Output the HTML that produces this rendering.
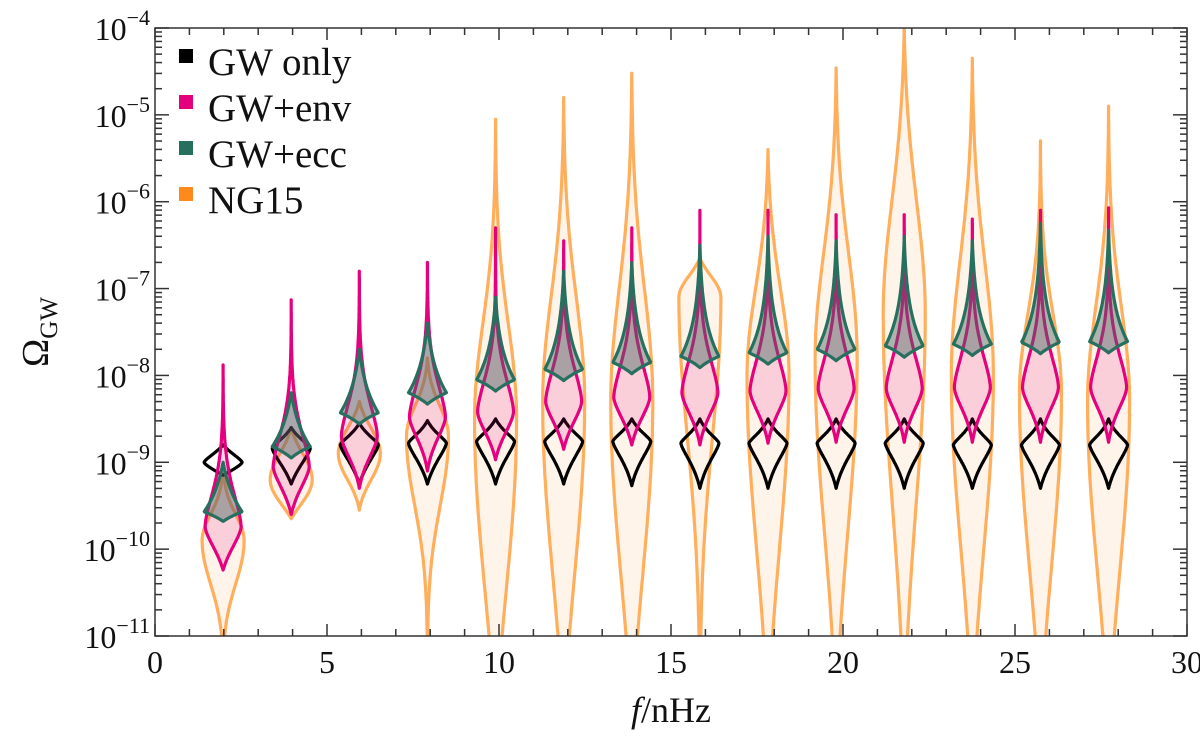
<!DOCTYPE html>
<html><head><meta charset="utf-8"><style>
body{margin:0;background:#fff;}
svg text{font-family:"Liberation Serif",serif;fill:#111;}
</style></head><body>
<svg id="chart" width="1200" height="745" viewBox="0 0 1200 745" xmlns="http://www.w3.org/2000/svg">
<defs><clipPath id="plotclip"><rect x="155" y="28" width="1032" height="608"/></clipPath></defs>
<g id="violins" clip-path="url(#plotclip)"></g>
<rect x="155" y="28" width="1032" height="608" fill="none" stroke="#333" stroke-width="1.5"/>
<g id="axes"></g>
<g>
<rect x="179" y="49" width="14" height="14" fill="#000"/>
<text x="208" y="75" font-size="39">GW only</text>
<rect x="179" y="95" width="14" height="14" fill="#e5007d"/>
<text x="208" y="121" font-size="39">GW+env</text>
<rect x="179" y="141" width="14" height="14" fill="#27705f"/>
<text x="208" y="167" font-size="39">GW+ecc</text>
<rect x="179" y="187" width="14" height="14" fill="#ff8a1c"/>
<text x="208" y="213" font-size="39">NG15</text>
</g>
<text x="671" y="722" font-size="36" text-anchor="middle"><tspan font-style="italic">f</tspan>/nHz</text>
<text transform="translate(48,332) rotate(-90)" font-size="38" text-anchor="middle">Ω<tspan font-size="25" dy="9">GW</tspan></text>
</svg>
<script>
// data
const freqs = [1.98,3.96,5.94,7.92,9.9,11.88,13.86,15.84,17.82,19.8,21.78,23.76,25.74,27.72];
// NG15 (orange)
const ngMode = [-9.9,-9.2,-8.9,-8.7,-8.5,-8.3,-8.3,-7.1,-8.0,-7.8,-7.3,-8.0,-8.2,-8.3];
const ngLo = [-11.3,-9.65,-9.55,-11.5,-12,-12,-12,-12,-12,-12,-12,-12,-12,-12];
const ngHi = [-9.0,-8.6,-8.3,-7.8,-5.05,-4.8,-4.52,-6.65,-5.4,-4.46,-4.0,-4.35,-5.3,-4.9];
const ngUp = [0.3,0.3,0.3,0.35,1.1,1.2,1.3,0.25,1.0,1.2,1.3,1.3,0.9,1.1];
const ngDown = [0.5,0.3,0.3,0.8,2.0,2.0,2.0,1.6,2.0,2.0,2.2,2.0,2.0,2.0];
// GW only (black)
const bkMode = [-9.0,-8.84,-8.8,-8.78,-8.76,-8.76,-8.76,-8.78,-8.78,-8.78,-8.78,-8.8,-8.8,-8.8];
const bkLo = [-9.15,-9.25,-9.25,-9.25,-9.25,-9.25,-9.27,-9.3,-9.3,-9.3,-9.3,-9.3,-9.3,-9.3];
const bkHi = [-8.8,-8.6,-8.55,-8.52,-8.5,-8.5,-8.5,-8.5,-8.5,-8.5,-8.5,-8.5,-8.5,-8.5];
// GW+env (pink)
const pkMode = [-9.74,-9.05,-8.7,-8.48,-8.42,-8.3,-8.25,-8.2,-8.18,-8.15,-8.15,-8.14,-8.14,-8.14];
const pkLo = [-10.24,-9.6,-9.3,-9.1,-8.97,-8.85,-8.8,-8.8,-8.78,-8.77,-8.77,-8.77,-8.77,-8.77];
const pkHi = [-7.88,-7.13,-6.8,-6.7,-6.3,-6.45,-6.3,-6.1,-6.1,-6.15,-6.15,-6.2,-6.1,-6.07];
// GW+ecc (green)
const grMode = [-9.57,-8.82,-8.43,-8.2,-8.05,-7.93,-7.85,-7.78,-7.74,-7.7,-7.66,-7.64,-7.62,-7.61];
const grLo = [-9.68,-8.95,-8.56,-8.33,-8.18,-8.06,-7.98,-7.91,-7.87,-7.83,-7.79,-7.77,-7.75,-7.74];
const grHi = [-9.0,-8.2,-7.7,-7.4,-7.1,-6.8,-6.7,-6.5,-6.4,-6.45,-6.4,-6.45,-6.25,-6.33];

const X0=155,X1=1187,Y0=28,Y1=636;
const xs = v => X0 + (v-0)/(30-0)*(X1-X0);
const ys = v => Y0 + (-4 - v)/7*(Y1-Y0);
const NS="http://www.w3.org/2000/svg";
const gV=document.getElementById('violins');
const gA=document.getElementById('axes');

function prof(t,s,k){return Math.exp(-0.5*Math.pow(Math.abs(t)/s,k));}
function violinPath(f,mode,lo,hi,su,sd,k,W){
  const cx=xs(f);const N=120;const right=[];
  const eU=prof(hi-mode,su,k), eD=prof(mode-lo,sd,k);
  for(let i=0;i<=N;i++){
    const v=lo+(hi-lo)*i/N;const t=v-mode;
    let w;
    if(t>=0){w=(prof(t,su,k)-eU)/(1-eU);}else{w=(prof(t,sd,k)-eD)/(1-eD);}
    w=Math.max(0,w)*W;
    right.push([cx+w,ys(v)]);
  }
  let d='M'+right.map(p=>p[0].toFixed(1)+','+p[1].toFixed(1)).join('L');
  for(let i=right.length-1;i>=0;i--){d+='L'+(2*cx-right[i][0]).toFixed(1)+','+right[i][1].toFixed(1);}
  return d+'Z';
}
function drawSet(name,mode,lo,hi,su,sd,k,W,fill,stroke){
  for(let i=0;i<freqs.length;i++){
    const p=document.createElementNS(NS,'path');
    const a=Array.isArray(su)?su[i]:su, b=Array.isArray(sd)?sd[i]:sd;
    p.setAttribute('d',violinPath(freqs[i],mode[i],lo[i],hi[i],a,b,k,W));
    p.setAttribute('fill',fill);p.setAttribute('stroke',stroke);
    p.setAttribute('stroke-width','3.2');p.setAttribute('stroke-linejoin','round');
    
    
    gV.appendChild(p);
  }
}
drawSet('ng15',ngMode,ngLo,ngHi,ngUp,ngDown,2,21,'rgba(255,170,90,0.13)','#ffae5c');
drawSet('gw-only',bkMode,bkLo,bkHi,0.12,0.22,1.4,19,'none','#000');
drawSet('gw-env',pkMode,pkLo,pkHi,0.38,0.26,1.6,18,'rgba(229,0,125,0.15)','#e5007d');
drawSet('gw-ecc',grMode,grLo,grHi,0.22,0.1,1.0,19,'rgba(70,105,100,0.45)','#27705f');

function line(x1,y1,x2,y2,name){
  const l=document.createElementNS(NS,'line');
  l.setAttribute('x1',x1);l.setAttribute('y1',y1);l.setAttribute('x2',x2);l.setAttribute('y2',y2);
  l.setAttribute('stroke','#333');l.setAttribute('stroke-width','1.5');
  
  
  gA.appendChild(l);
}
function text(x,y,s,anchor,name){
  const t=document.createElementNS(NS,'text');
  t.setAttribute('x',x);t.setAttribute('y',y);t.setAttribute('font-size','32');t.setAttribute('text-anchor',anchor);
  t.innerHTML=s;
  
  
  gA.appendChild(t);
}
const xTicks=[0,5,10,15,20,25,30];
const yTicks=[-4,-5,-6,-7,-8,-9,-10,-11];
for(let v=0;v<=30;v++){
  const big=v%5===0;const L=big?12:7;const x=xs(v);
  line(x,Y1,x,Y1-L,'x-tick');line(x,Y0,x,Y0+L,'x-tick-top');
}
xTicks.forEach(v=>text(xs(v),673,String(v),'middle','x-tick-label'));
for(let e=-11;e<-4;e++){
  for(let m=2;m<=9;m++){const y=ys(e+Math.log10(m));line(X0,y,X0+7,y,'y-minor-tick');line(X1,y,X1-7,y,'y-minor-tick-right');}
}
yTicks.forEach(e=>{
  const y=ys(e);line(X0,y,X0+14,y,'y-tick');line(X1,y,X1-14,y,'y-tick-right');
  text(150,y+12,'10<tspan font-size="22" dy="-15">−'+(-e)+'</tspan>','end','y-tick-label');
});
</script>
</body></html>
